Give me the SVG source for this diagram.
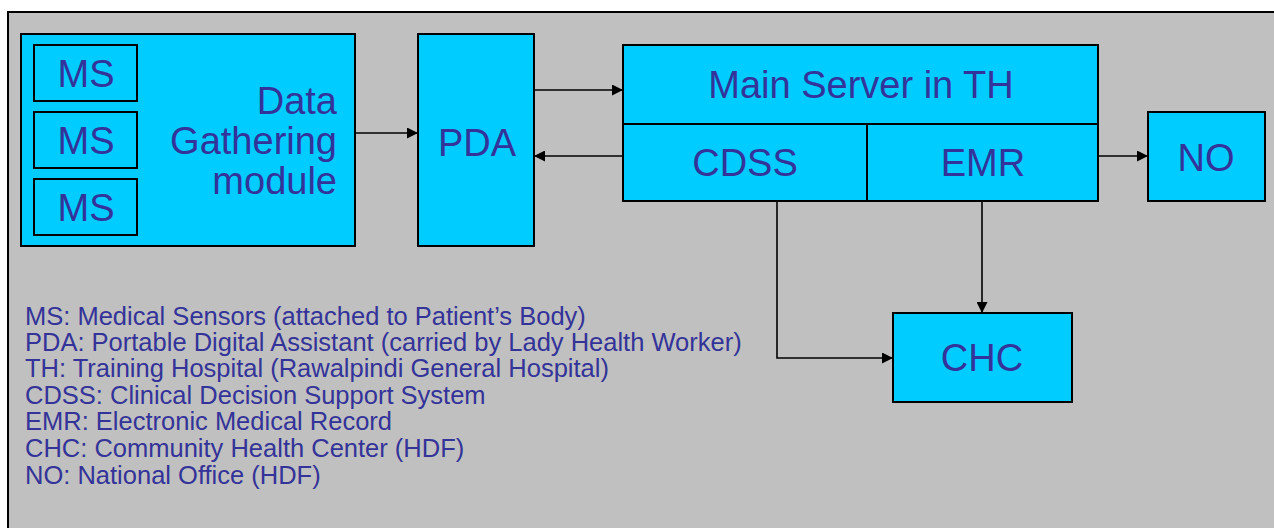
<svg xmlns="http://www.w3.org/2000/svg" width="1274" height="528" viewBox="0 0 1274 528">
<style>
.box{fill:#00CCFF;stroke:#000;stroke-width:2}
.big{font-family:"Liberation Sans",Arial,sans-serif;font-size:38px;fill:#333399}
.leg{font-family:"Liberation Sans",Arial,sans-serif;font-size:25.5px;fill:#333399}
.con{fill:none;stroke:#000;stroke-width:1.6}
</style>
<defs>
<marker id="arr" viewBox="0 0 10 10" refX="10" refY="5" markerWidth="11" markerHeight="11" markerUnits="userSpaceOnUse" orient="auto">
<path d="M0,0 L10,5 L0,10 z" fill="#000"/>
</marker>
</defs>
<rect width="1274" height="528" fill="#fff"/>
<rect x="8" y="12" width="1280" height="530" fill="#C0C0C0" stroke="#000" stroke-width="2"/>
<g id="dgm">
<rect class="box" x="21" y="34" width="334" height="212"/>
<text class="big" x="337" y="114" text-anchor="end">Data</text>
<text class="big" x="337" y="154" text-anchor="end">Gathering</text>
<text class="big" x="337" y="194" text-anchor="end">module</text>
</g>
<g id="ms1"><rect class="box" x="34" y="45" width="103" height="56"/><text class="big" x="86" y="87" text-anchor="middle">MS</text></g>
<g id="ms2"><rect class="box" x="34" y="112" width="103" height="56"/><text class="big" x="86" y="154" text-anchor="middle">MS</text></g>
<g id="ms3"><rect class="box" x="34" y="179" width="103" height="56"/><text class="big" x="86" y="221" text-anchor="middle">MS</text></g>
<g id="pda"><rect class="box" x="418" y="34" width="116" height="212"/><text class="big" x="477" y="156" text-anchor="middle">PDA</text></g>
<g id="server"><rect class="box" x="623" y="45" width="475" height="79"/><text class="big" x="861" y="98" text-anchor="middle">Main Server in TH</text></g>
<g id="cdss"><rect class="box" x="623" y="124" width="244" height="77"/><text class="big" x="745" y="176" text-anchor="middle">CDSS</text></g>
<g id="emr"><rect class="box" x="867" y="124" width="231" height="77"/><text class="big" x="983" y="176" text-anchor="middle">EMR</text></g>
<g id="no"><rect class="box" x="1148" y="112" width="117" height="89"/><text class="big" x="1206" y="171" text-anchor="middle">NO</text></g>
<g id="chc"><rect class="box" x="893" y="313" width="179" height="89"/><text class="big" x="982" y="371" text-anchor="middle">CHC</text></g>
<g id="connectors">
<line class="con" x1="355" y1="133" x2="418" y2="133" marker-end="url(#arr)"/>
<line class="con" x1="534" y1="90" x2="623" y2="90" marker-end="url(#arr)"/>
<line class="con" x1="623" y1="156" x2="534" y2="156" marker-end="url(#arr)"/>
<line class="con" x1="1098" y1="156" x2="1148" y2="156" marker-end="url(#arr)"/>
<polyline class="con" points="777,201 777,358 893,358" marker-end="url(#arr)"/>
<line class="con" x1="982" y1="201" x2="982" y2="313" marker-end="url(#arr)"/>
</g>
<g id="legend">
<text class="leg" x="25" y="325">MS: Medical Sensors (attached to Patient’s Body)</text>
<text class="leg" x="25" y="351">PDA: Portable Digital Assistant (carried by Lady Health Worker)</text>
<text class="leg" x="25" y="377">TH: Training Hospital (Rawalpindi General Hospital)</text>
<text class="leg" x="25" y="404">CDSS: Clinical Decision Support System</text>
<text class="leg" x="25" y="430">EMR: Electronic Medical Record</text>
<text class="leg" x="25" y="457">CHC: Community Health Center (HDF)</text>
<text class="leg" x="25" y="484">NO: National Office (HDF)</text>
</g>
</svg>
